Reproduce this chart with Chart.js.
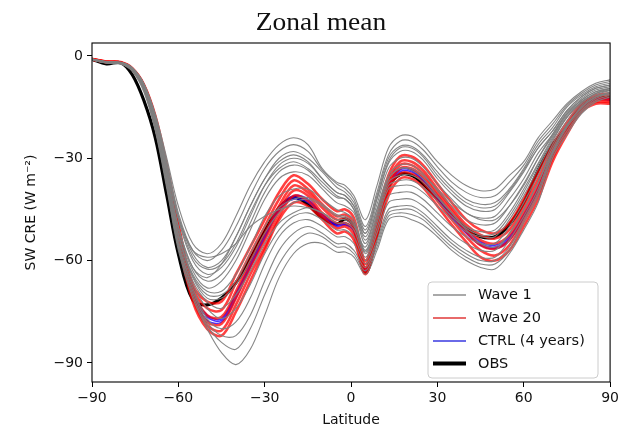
<!DOCTYPE html>
<html>
<head>
<meta charset="utf-8">
<script src="https://cdn.jsdelivr.net/npm/chart.js@4.4.1/dist/chart.umd.min.js"></script>
<style>
html,body{margin:0;padding:0;background:#fff;}
#wrap{width:622px;height:429px;position:relative;}
</style>
</head>
<body>
<div id="wrap"><canvas id="c" width="622" height="429"></canvas></div>
<script>
// ---- data ----
const TITLE = 'Zonal mean';
const X_LABEL = 'Latitude';
const Y_LABEL = 'SW CRE (W m\u207B\u00B2)';
const X_TICKS = [-90, -60, -30, 0, 30, 60, 90];
const Y_TICKS = [-90, -60, -30, 0];
const LEGEND_LABELS = ['Wave 1', 'Wave 20', 'CTRL (4 years)', 'OBS'];

const LAT = [-90,-85,-80,-76,-72,-68,-64,-60,-55,-50,-45,-40,-35,-30,-25,-20,-15,-10,-5,-2,1,5,9,13,17,21,25,30,35,40,45,50,55,60,65,70,75,80,85,90];

const OBS = [-1,-2.3,-2,-5.5,-13,-24,-41,-58,-71.5,-73,-71,-66.5,-59.5,-51.5,-44.5,-41.5,-43.5,-47.5,-49.3,-47.8,-50,-63.5,-52.5,-38.5,-34.8,-35,-37.5,-42,-46.5,-50.5,-53,-53,-49.5,-43,-33.5,-26,-21,-15,-12.5,-12];

const WAVE1_01 = [-0.8,-1.6,-1.8,-3.4,-8,-17,-30,-44,-55,-58,-55,-47,-38,-31,-26,-24,-26,-33,-37,-38,-41,-48,-38,-27,-23.5,-23.5,-26,-31,-35,-38,-39.5,-39,-35,-31,-24,-19,-14,-10.5,-8,-7];
const WAVE1_02 = [-0.8,-1.7,-1.9,-3.5,-8.2,-17.5,-31,-46,-57,-60,-57,-50,-41,-33,-28,-26,-28,-33.5,-37.5,-39,-42,-50,-40,-29,-25,-25,-27.5,-32.5,-37,-40,-41.5,-41,-37,-32,-25,-20,-14.5,-11,-8.5,-7.5];
const WAVE1_03 = [-0.9,-1.8,-2,-3.6,-8.4,-18,-32,-47,-58,-62,-60,-53,-44,-36,-30,-28,-30,-34,-38.5,-40,-43,-51,-41,-30,-26.5,-26.5,-29,-34,-38.5,-42,-43.5,-43,-39,-33,-26,-21,-15,-11.5,-9,-8];
const WAVE1_04 = [-1,-1.8,-2,-3.8,-8.6,-18.5,-33,-48,-60,-64,-62,-56,-47,-38,-32,-30,-31.5,-36,-40,-41,-44,-52,-42,-31.5,-28,-28,-30.5,-36,-40.5,-44,-45.5,-45,-40,-34,-27,-22,-16,-12,-9.5,-8.5];
const WAVE1_05 = [-1,-1.8,-2,-3.9,-8.8,-19,-34,-50,-62,-66,-64,-58,-49,-40,-34,-32,-33.5,-38,-41.5,-42,-45,-53,-43.5,-33,-30,-30,-32.5,-37.5,-42,-46,-47.5,-47,-42,-36,-28.5,-23,-16.5,-12.5,-10,-9];
const WAVE1_06 = [-1,-1.9,-2,-4,-9,-19.5,-35,-51,-63,-68,-66,-60,-51,-42,-36,-34,-35,-39,-43,-44,-46,-55,-45,-35,-32,-32,-34.5,-39.5,-44,-48,-49.5,-49,-44,-37.5,-30,-23.5,-17,-13,-10.5,-9.5];
const WAVE1_07 = [-1,-1.9,-2.1,-4,-9,-19.5,-35,-52,-64,-69,-69,-64,-56,-47,-41,-39,-39,-42,-45,-46,-48,-57,-47,-37,-35,-35,-37,-41.5,-46,-50,-51.5,-51,-46,-39,-31.5,-24,-17.5,-13.5,-11,-9.5];
const WAVE1_08 = [-1,-1.9,-2.1,-4.1,-9.2,-20,-36,-53,-65,-71,-71,-67,-60,-52,-46,-43,-42,-44,-47,-47.5,-49.5,-58,-49,-39,-38,-38,-40,-44,-48,-51.5,-53,-53,-48,-41,-33,-25,-18,-14,-11,-10];
const WAVE1_09 = [-1,-1.9,-2.1,-4.1,-9.3,-20,-36,-54,-66,-72,-74,-70,-63,-55,-49,-46,-44.5,-46,-49,-49,-51,-59,-50.5,-41,-40,-40,-42,-46,-50,-53,-55,-55,-50,-43,-35,-26,-19,-14.5,-11.5,-10];
const WAVE1_10 = [-1.1,-2,-2.2,-4.2,-9.5,-20.5,-37,-55,-67,-74,-77,-74,-67,-58,-51,-47,-46,-48,-51,-51,-53,-60,-52,-43,-42,-42,-44,-48,-52,-55,-57,-57,-52,-45,-37,-27,-20,-15,-12,-10.5];
const WAVE1_11 = [-1.1,-2,-2.2,-4.2,-9.6,-21,-37,-55,-68,-77,-80,-78,-71,-61,-53,-49,-48,-50,-53,-53,-55,-61,-54,-45,-44,-44,-46,-50,-54,-57,-59,-59,-54,-47,-39,-28,-20.5,-15.5,-12,-11];
const WAVE1_12 = [-1.1,-2,-2.3,-4.3,-9.8,-21,-38,-56,-69,-78,-82,-82,-76,-66,-57,-52,-50,-52,-55,-55,-57,-62,-55,-46,-45,-45,-47,-51,-55,-58,-60,-60,-56,-48,-40,-28.5,-21,-16,-12.5,-11];
const WAVE1_13 = [-1.2,-2,-2.3,-4.3,-10,-21.5,-38,-56,-70,-79,-84,-86,-80,-70,-61,-55,-52,-53,-56,-56,-58,-63,-56,-47,-46,-46.5,-48,-52,-56,-59,-61,-61,-57,-49,-41,-29,-22,-16.5,-13,-11.5];
const WAVE1_14 = [-1.2,-2.1,-2.4,-4.5,-10.5,-22,-39,-57,-71,-80,-87,-90.5,-86,-76,-65,-58,-55,-55,-57.5,-57.5,-59,-64,-57,-48,-47,-48,-49.5,-53,-57,-60,-62,-62.5,-58,-51,-43,-30,-23,-17,-13.5,-12];
const WAVE1_15 = [-1,-1.8,-2,-3.6,-8.4,-18,-32,-47,-57,-59,-58,-55,-50,-47,-45,-44,-44.5,-46,-48,-48,-50,-56,-46,-36,-33,-33,-35,-39,-43,-46,-48,-48,-44,-38,-30,-23,-17,-13,-10.5,-9.5];
const WAVE1_16 = [-1,-1.9,-2,-3.9,-8.8,-19,-34,-50,-62,-65,-61,-53,-44,-36,-31,-29,-31,-36,-40,-41,-44,-52,-42,-31,-27,-27,-29.5,-35,-39.5,-43,-44.5,-44,-39.5,-33.5,-27,-22,-16,-12,-9.5,-8.5];
const WAVE1_17 = [-1,-1.9,-2.1,-4,-9.1,-19.8,-35.5,-52.5,-64.5,-70,-70,-66,-58,-50,-44.5,-42,-41.5,-43.5,-46.5,-47,-49,-57.5,-48,-38,-36.5,-36.5,-38.5,-42.5,-47,-50.5,-52.5,-52,-47,-40,-32,-24.5,-18,-13.5,-11,-10];
const WAVE1_18 = [-1,-1.8,-2,-3.7,-8.5,-18,-32.5,-47.5,-59,-62.5,-61,-55,-46,-38,-33,-31,-33,-37,-41,-42,-45,-54,-45,-36,-33,-33.5,-36,-41,-46,-51,-55,-56,-52,-45,-37,-28,-20.5,-15,-12,-11];

const WAVE20_1 = [-0.8,-1.6,-1.8,-3.6,-8.3,-17.5,-32,-49,-67,-72,-72,-64,-56,-48,-40,-35,-37.5,-42,-45.5,-45,-47.5,-60,-47.5,-35,-29.5,-29.5,-32,-37.5,-43,-48,-51,-52,-49,-42,-34,-26,-19.5,-14,-11.5,-11];
const WAVE20_2 = [-0.9,-1.7,-1.9,-3.7,-8.5,-18,-33,-50,-68,-74,-74.5,-66.5,-58,-50,-42,-36.5,-39,-43.5,-47,-46.5,-49,-61,-49,-36.5,-31,-31,-33.5,-39,-44.5,-49.5,-52.5,-53.5,-51,-44,-36,-27,-20.5,-14.5,-12,-12];
const WAVE20_3 = [-0.9,-1.7,-1.9,-3.7,-8.6,-18.5,-33.5,-51,-69,-76,-76.5,-69,-60,-52,-44,-38,-40,-44.5,-48,-47.5,-50,-62,-50,-37.5,-32,-32,-34.5,-40,-45.5,-50.5,-54,-55,-52.5,-45.5,-37.5,-28,-21,-15,-12.5,-12.5];
const WAVE20_4 = [-1,-1.8,-2,-3.8,-8.8,-19,-34,-52,-70,-78,-78.5,-71,-62,-54,-45.5,-39.5,-41,-46,-49,-49,-51,-62.5,-51,-38.5,-33,-33,-35.5,-41,-46.5,-51.5,-55.5,-56.5,-54,-47,-39,-29,-21.5,-15.5,-13,-13];
const WAVE20_5 = [-1,-1.8,-2,-3.9,-9,-19.5,-35,-53,-71,-79,-80.5,-73,-64,-56,-47,-41,-42.5,-47,-50.5,-50,-52.5,-63.5,-52,-39.5,-34.5,-34.5,-37,-42.5,-48,-53,-57,-58.5,-55.5,-48.5,-40.5,-30,-22,-16,-13.5,-13.5];
const WAVE20_6 = [-1,-1.8,-2,-4,-9.2,-20,-35.5,-54,-72,-80,-82,-75,-66,-57,-48,-43,-44,-48,-52,-51.5,-54,-64,-53,-41,-36,-36,-38.5,-44,-49.5,-54.5,-59,-60,-57,-50,-42,-31,-23,-16.5,-14,-14];

const CTRL_1 = [-0.9,-1.7,-1.9,-3.7,-8.6,-18.5,-33.5,-51.5,-69.5,-76.5,-77.5,-70,-61.5,-53,-45,-42,-43,-47,-50,-49.5,-51.5,-63,-51,-38.5,-33.5,-33.5,-36,-41.5,-47,-51.5,-55,-56,-53.5,-47,-39,-28.5,-21,-15,-12.5,-12.5];
const CTRL_2 = [-0.9,-1.7,-1.9,-3.8,-8.7,-18.7,-34,-52,-70,-77.5,-78,-71,-62,-53.5,-45.5,-41.5,-42.5,-46.5,-49.5,-49,-51,-62.5,-50.5,-38,-33,-33.5,-36.5,-42,-47.5,-52,-55.5,-56.5,-54,-47.5,-39.5,-29,-21.5,-15.5,-12.8,-13];
const CTRL_3 = [-0.9,-1.7,-1.9,-3.7,-8.5,-18.3,-33.3,-51,-69,-76,-77,-69.5,-61,-52.5,-44.5,-41,-42,-46.5,-49.5,-49.5,-51,-63,-51.5,-38.5,-34,-34,-36.5,-41,-46.5,-51,-54.5,-55.5,-53,-46.5,-38.5,-28,-21,-15,-12.5,-12.8];

// ---- styles ----
const GRAY = 'rgba(128,128,128,0.95)';
const RED = 'rgba(255,0,0,0.75)';
const BLUE = 'rgba(30,0,255,0.8)';
const BLACK = '#000000';

function pts(arr){ return LAT.map((x,i)=>({x:x, y:arr[i]})); }
function ds(arr, color, w){
  return {data: pts(arr), borderColor: color, borderWidth: w, pointRadius: 0,
          fill: false, tension: 0.35};
}
const datasets = [];
[WAVE1_01,WAVE1_02,WAVE1_03,WAVE1_04,WAVE1_05,WAVE1_06,WAVE1_07,WAVE1_08,WAVE1_09,WAVE1_10,WAVE1_11,WAVE1_12,WAVE1_13,WAVE1_14,WAVE1_15,WAVE1_16,WAVE1_17,WAVE1_18]
  .forEach(a=>datasets.push(ds(a, GRAY, 1.1)));
[WAVE20_1,WAVE20_2,WAVE20_3,WAVE20_4,WAVE20_5,WAVE20_6].forEach(a=>datasets.push(ds(a, RED, 2.6)));
[CTRL_1,CTRL_2,CTRL_3].forEach(a=>datasets.push(ds(a, BLUE, 1.5)));
datasets.push(ds(OBS, BLACK, 3.2));

const FONT = "'DejaVu Sans', sans-serif";
const minus = v => (v < 0 ? '\u2212' + Math.abs(v) : String(v));

const overlay = {
  id: 'overlay',
  afterDraw(chart){
    const ctx = chart.ctx, a = chart.chartArea;
    ctx.save();
    // frame
    ctx.strokeStyle = '#000'; ctx.lineWidth = 1.1;
    ctx.strokeRect(a.left, a.top, a.right - a.left, a.bottom - a.top);
    // title
    ctx.fillStyle = '#111';
    ctx.font = "25px 'Liberation Serif', serif";
    ctx.textAlign = 'center'; ctx.textBaseline = 'alphabetic';
    ctx.save(); ctx.translate(321, 30); ctx.scale(1.1, 1); ctx.fillText(TITLE, 0, 0); ctx.restore();
    // legend
    const bx = 428, by = 282, bw = 170, bh = 96, r = 4;
    ctx.fillStyle = 'rgba(255,255,255,0.85)';
    ctx.strokeStyle = '#cccccc'; ctx.lineWidth = 1;
    ctx.beginPath();
    ctx.moveTo(bx + r, by); ctx.lineTo(bx + bw - r, by); ctx.quadraticCurveTo(bx + bw, by, bx + bw, by + r);
    ctx.lineTo(bx + bw, by + bh - r); ctx.quadraticCurveTo(bx + bw, by + bh, bx + bw - r, by + bh);
    ctx.lineTo(bx + r, by + bh); ctx.quadraticCurveTo(bx, by + bh, bx, by + bh - r);
    ctx.lineTo(bx, by + r); ctx.quadraticCurveTo(bx, by, bx + r, by); ctx.closePath();
    ctx.fill(); ctx.stroke();
    const handles = [['#8c8c8c',1.3],['#e86a6a',1.8],['#6a6ae8',1.8],['#000',4]];
    const rows = [295, 318, 341, 363.5];
    ctx.font = '14.5px ' + FONT; ctx.textAlign = 'left'; ctx.textBaseline = 'middle';
    LEGEND_LABELS.forEach((lab,i)=>{
      ctx.strokeStyle = handles[i][0]; ctx.lineWidth = handles[i][1];
      ctx.beginPath(); ctx.moveTo(433, rows[i]); ctx.lineTo(466, rows[i]); ctx.stroke();
      ctx.fillStyle = '#111'; ctx.fillText(lab, 478, rows[i] + 0.5);
    });
    ctx.restore();
  }
};

new Chart(document.getElementById('c'), {
  type: 'line',
  data: { datasets },
  options: {
    responsive: false, animation: false, events: [],
    layout: { padding: { left: 0, right: 9, top: 43, bottom: 0 } },
    plugins: { legend: { display: false }, tooltip: { enabled: false }, title: { display: false } },
    scales: {
      x: {
        type: 'linear', min: -90, max: 90,
        afterBuildTicks: s => { s.ticks = X_TICKS.map(v => ({ value: v })); },
        afterFit: s => { s.height = 47; },
        border: { display: false },
        grid: { display: true, drawOnChartArea: false, drawTicks: true, tickLength: 5, color: '#000', lineWidth: 1 },
        ticks: { color: '#111', font: { family: FONT, size: 14 }, padding: 3, maxRotation: 0, callback: v => minus(v) },
        title: { display: true, text: X_LABEL, color: '#111', font: { family: FONT, size: 14 }, padding: { top: 0, bottom: 0 } }
      },
      y: {
        type: 'linear', min: -95.6, max: 3.8,
        afterBuildTicks: s => { s.ticks = Y_TICKS.map(v => ({ value: v })); },
        afterFit: s => { s.width = 92; },
        border: { display: false },
        grid: { display: true, drawOnChartArea: false, drawTicks: true, tickLength: 5, color: '#000', lineWidth: 1 },
        ticks: { color: '#111', font: { family: FONT, size: 14 }, padding: 4, callback: v => minus(v) },
        title: { display: true, text: Y_LABEL, color: '#111', font: { family: FONT, size: 14 }, padding: { top: 23, bottom: 0 } }
      }
    }
  },
  plugins: [overlay]
});
</script>
</body>
</html>
